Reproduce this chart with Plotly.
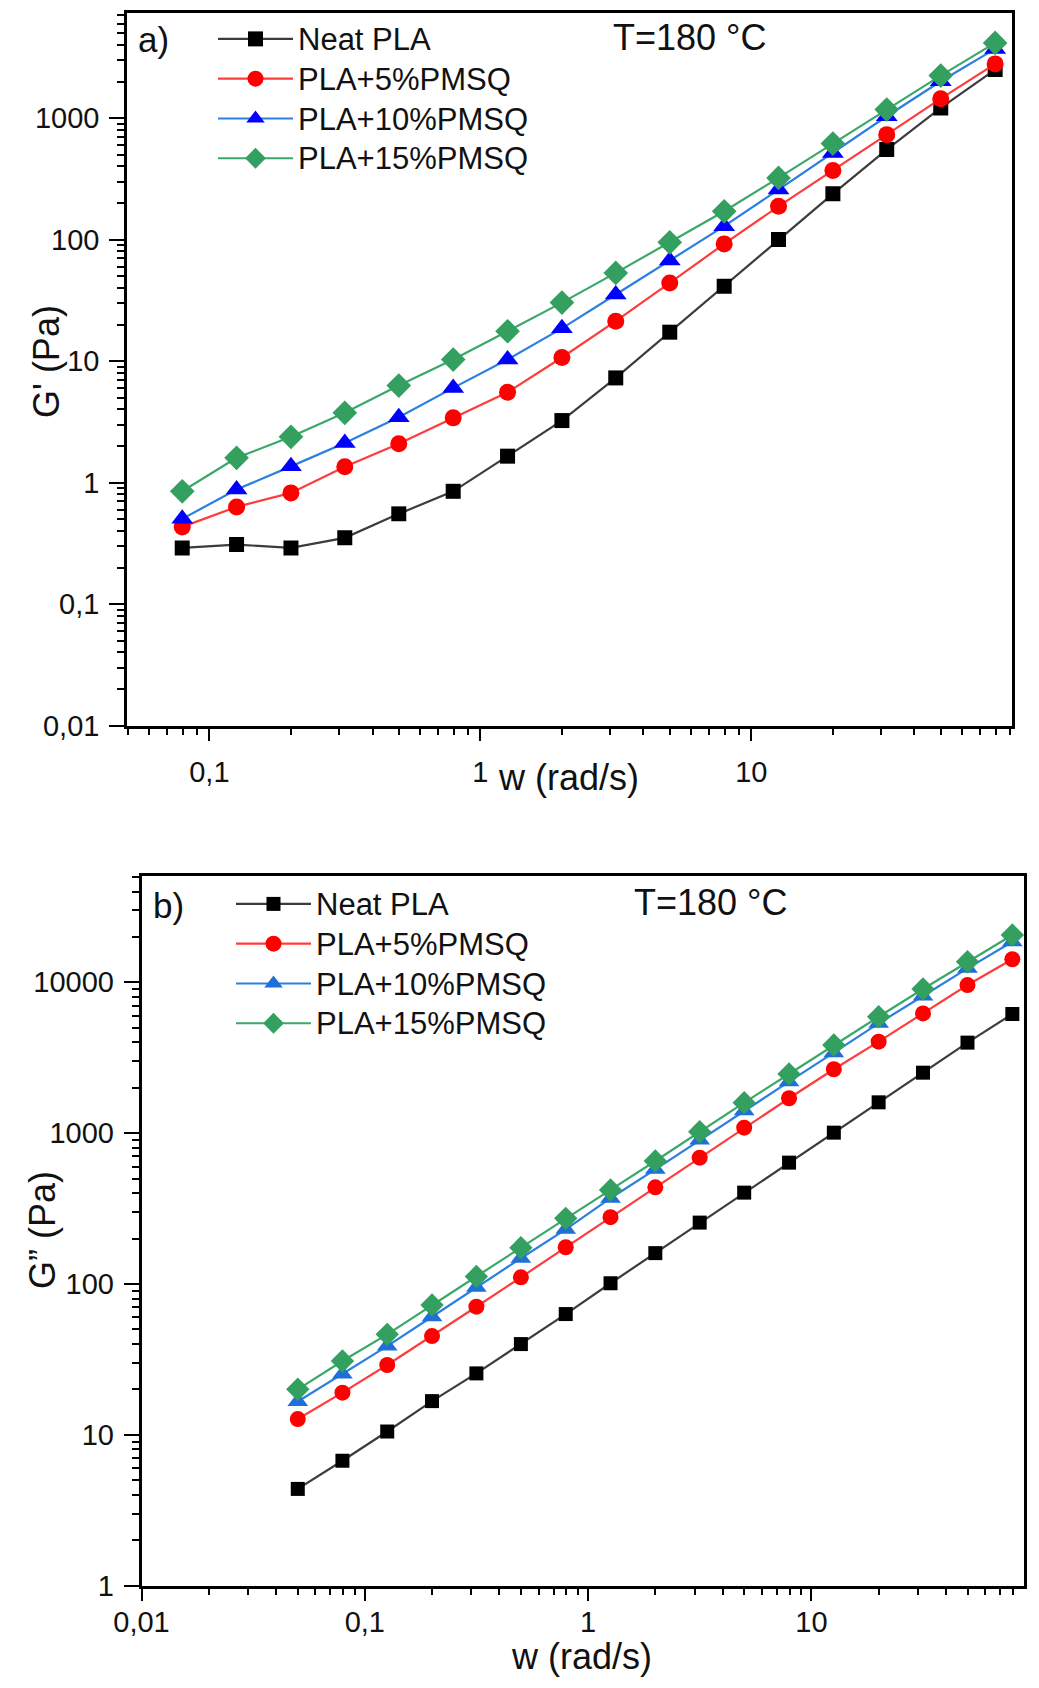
import plotly.graph_objects as go

# ---------------- data ----------------
w_a = [0.0794, 0.126, 0.2, 0.316, 0.5, 0.794, 1.26, 2.0, 3.16, 5.0, 7.94, 12.6, 20.0, 31.6, 50.0, 79.4]
Gp_neat = [0.290, 0.309, 0.290, 0.351, 0.553, 0.848, 1.65, 3.24, 7.27, 17.3, 41.3, 100, 238, 551, 1213, 2506]
Gp_5 = [0.432, 0.631, 0.823, 1.35, 2.09, 3.41, 5.54, 10.7, 21.3, 44.0, 92.2, 188, 370, 731, 1445, 2794]
Gp_10 = [0.503, 0.876, 1.36, 2.12, 3.45, 6.02, 10.3, 18.6, 35.3, 67.2, 129, 258, 517, 1035, 2011, 3710]
Gp_15 = [0.848, 1.60, 2.38, 3.75, 6.29, 10.3, 17.6, 30.3, 53.2, 95, 171, 322, 617, 1175, 2239, 4160]

w_b = [0.0501, 0.0794, 0.126, 0.2, 0.316, 0.5, 0.794, 1.26, 2.0, 3.16, 5.0, 7.94, 12.6, 20.0, 31.6, 50.0, 79.4]
Gpp_neat = [4.37, 6.72, 10.5, 16.7, 25.5, 39.9, 63.1, 101, 160, 255, 403, 637, 1007, 1600, 2516, 3981, 6166]
Gpp_5 = [12.7, 19.0, 29.0, 45.1, 70.6, 110.6, 175, 277, 437, 687, 1086, 1702, 2650, 4040, 6223, 9590, 14220]
Gpp_10 = [16.6, 25.3, 38.7, 60.6, 94.9, 148, 230, 370, 575, 900, 1409, 2193, 3414, 5346, 8110, 12380, 18590]
Gpp_15 = [20.0, 30.8, 46.3, 72.5, 112, 174, 272, 420, 653, 1021, 1592, 2466, 3838, 5915, 9035, 13700, 20600]

names = ["Neat PLA", "PLA+5%PMSQ", "PLA+10%PMSQ", "PLA+15%PMSQ"]

ya_vals = [0.01, 0.1, 1, 10, 100, 1000]
ya_text = ["0,01", "0,1", "1", "10", "100", "1000"]
xa_vals = [0.1, 1, 10]
xa_text = ["0,1", "1", "10"]
yb_vals = [1, 10, 100, 1000, 10000]
yb_text = ["1", "10", "100", "1000", "10000"]
xb_vals = [0.01, 0.1, 1, 10]
xb_text = ["0,01", "0,1", "1", "10"]

# ---------------- style ----------------
FONT = "Liberation Sans, Arial, sans-serif"
W, H = 1039, 1688

styles_a = [
    dict(symbol="square", size=15, mcol="#000000", lcol="#3c3c3c"),
    dict(symbol="circle", size=17, mcol="#ff0000", lcol="#ff3c3c"),
    dict(symbol="triangle-up", size=19, mcol="#0000ff", lcol="#2a7fe0"),
    dict(symbol="diamond", size=19, mcol="#33a060", lcol="#3aa868"),
]
styles_b = [
    dict(symbol="square", size=14, mcol="#000000", lcol="#3c3c3c"),
    dict(symbol="circle", size=16, mcol="#ff0000", lcol="#ff3c3c"),
    dict(symbol="triangle-up", size=18, mcol="#1f6fd8", lcol="#2a7fe0"),
    dict(symbol="diamond", size=18, mcol="#33a060", lcol="#3aa868"),
]

def legend_label(n):
    return '<span style="font-size:31px">' + n + '</span>'

fig = go.Figure()
for name, ys, st in zip(names, [Gp_neat, Gp_5, Gp_10, Gp_15], styles_a):
    fig.add_trace(go.Scatter(
        x=w_a, y=ys, name=legend_label(name), mode="lines+markers",
        line=dict(color=st["lcol"], width=2.2),
        marker=dict(symbol=st["symbol"], size=st["size"], color=st["mcol"], line=dict(width=0)),
        xaxis="x", yaxis="y", legend="legend"))
for name, ys, st in zip(names, [Gpp_neat, Gpp_5, Gpp_10, Gpp_15], styles_b):
    fig.add_trace(go.Scatter(
        x=w_b, y=ys, name=legend_label(name), mode="lines+markers",
        line=dict(color=st["lcol"], width=2.2),
        marker=dict(symbol=st["symbol"], size=st["size"], color=st["mcol"], line=dict(width=0)),
        xaxis="x2", yaxis="y2", legend="legend2"))

def px_x(p):
    return p / W

def px_y(p):
    return (H - p) / H

axis_common = dict(
    type="log", showline=True, linecolor="black", linewidth=2.5, mirror=True,
    ticks="outside", tickcolor="black", tickwidth=2, showgrid=False, zeroline=False,
    automargin=False,
    tickfont=dict(family=FONT, size=29, color="#111"),
    minor=dict(ticks="outside", ticklen=7, tickwidth=1.5, tickcolor="black", dtick="D1", showgrid=False),
)

legend_font = dict(family=FONT, size=28.3, color="#111")

fig.update_layout(
    template="none",
    width=W, height=H,
    margin=dict(l=0, r=0, t=0, b=0, autoexpand=False),
    paper_bgcolor="white", plot_bgcolor="white",
    font=dict(family=FONT, color="#111"),
    xaxis=dict(axis_common, domain=[px_x(127), px_x(1012)], anchor="y",
               range=[-1.304, 1.962], tickmode="array", tickvals=xa_vals, ticktext=xa_text,
               ticklen=13, ticklabelstandoff=6),
    yaxis=dict(axis_common, domain=[px_y(725.6), px_y(13)], anchor="x",
               range=[-2, 3.865], tickmode="array", tickvals=ya_vals, ticktext=ya_text,
               ticklen=15, ticklabelstandoff=4),
    xaxis2=dict(axis_common, domain=[px_x(141.5), px_x(1024)], anchor="y2",
                range=[-2, 1.952], tickmode="array", tickvals=xb_vals, ticktext=xb_text,
                ticklen=13, ticklabelstandoff=-4),
    yaxis2=dict(axis_common, domain=[px_y(1585.5), px_y(876)], anchor="x2",
                range=[0, 4.705], tickmode="array", tickvals=yb_vals, ticktext=yb_text,
                ticklen=15, ticklabelstandoff=4),
    legend=dict(x=px_x(213), y=px_y(14), xanchor="left", yanchor="top",
                bgcolor="rgba(0,0,0,0)", borderwidth=0, itemwidth=75,
                font=legend_font, tracegroupgap=0),
    legend2=dict(x=px_x(231), y=px_y(879), xanchor="left", yanchor="top",
                 bgcolor="rgba(0,0,0,0)", borderwidth=0, itemwidth=75,
                 font=legend_font, tracegroupgap=0),
    showlegend=True,
)

ann = [
    dict(text="a)", x=px_x(153.5), y=px_y(39), size=35, angle=0),
    dict(text="T=180 °C", x=px_x(689), y=px_y(38), size=36, angle=0),
    dict(text="b)", x=px_x(168), y=px_y(905), size=35, angle=0),
    dict(text="T=180 °C", x=px_x(710), y=px_y(902), size=36, angle=0),
    dict(text="G' (Pa)", x=px_x(46), y=px_y(362), size=36, angle=-90),
    dict(text="G” (Pa)", x=px_x(42), y=px_y(1230), size=36, angle=-90),
    dict(text="w (rad/s)", x=px_x(568), y=px_y(777), size=36, angle=0),
    dict(text="w (rad/s)", x=px_x(581), y=px_y(1656), size=36, angle=0),
]
for a in ann:
    fig.add_annotation(text=a["text"], x=a["x"], y=a["y"], xref="paper", yref="paper",
                       xanchor="center", yanchor="middle", showarrow=False, textangle=a["angle"],
                       font=dict(family=FONT, size=a["size"], color="#111"))

fig.write_html("out.html")
